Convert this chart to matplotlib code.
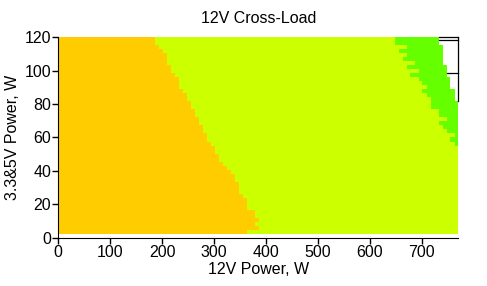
import numpy as np
import matplotlib.pyplot as plt

# ---------------------------------------------------------
# 12V cross-load map: zones per 3.3&5V load row
# ---------------------------------------------------------

# bottom edge of each 3.3&5V load row (W), top row first
row_load = [117.6, 115.2, 112.8, 110.4, 108.0, 105.6, 103.2, 100.8, 98.4, 96.0,
            93.6, 91.2, 88.8, 86.4, 84.0, 81.6, 79.2, 76.8, 74.4, 72.0,
            69.6, 67.2, 64.8, 62.4, 60.0, 57.6, 55.2, 52.8, 50.4, 48.0,
            45.6, 43.2, 40.8, 38.4, 36.0, 33.6, 31.2, 28.8, 26.4, 24.0,
            21.6, 19.2, 16.8, 14.4, 12.0, 9.6, 7.2, 4.8, 2.4]
row_height = 2.4

# 12V load (W) where the orange zone ends
orange_end = [186, 186, 194, 201, 209, 209, 209, 217, 217, 224,
              232, 232, 232, 240, 248, 248, 255, 255, 263, 263,
              271, 271, 278, 278, 286, 286, 294, 301, 301, 309,
              309, 317, 324, 332, 340, 340, 348, 348, 348, 355,
              363, 363, 363, 378, 378, 386, 378, 386, 363]

# 12V load (W) where the green zone starts
green_start = [648, 648, 671, 655, 671, 663, 686, 671, 694, 678,
               694, 701, 709, 701, 709, 717, 717, 717, 732, 732,
               748, 732, 740, 748, 763, 755, 763, 770, 770, 770,
               770, 770, 770, 770, 770, 770, 770, 770, 770, 770,
               770, 770, 770, 770, 770, 770, 770, 770, 770]

# 12V load (W) where measured area ends
green_end = [732, 732, 740, 740, 740, 740, 740, 748, 748, 748,
             755, 755, 755, 763, 763, 763, 770, 770, 770, 770,
             770, 770, 770, 770, 770, 770, 770, 770, 770, 770,
             770, 770, 770, 770, 770, 770, 770, 770, 770, 770,
             770, 770, 770, 770, 770, 770, 770, 770, 770]

x_ticks = [0, 100, 200, 300, 400, 500, 600, 700]
y_ticks = [0, 20, 40, 60, 80, 100, 120]

c_orange = '#FFCC00'
c_yellow = '#CCFF00'
c_green = '#66FF00'

plt.rcParams['font.family'] = ['Liberation Sans', 'DejaVu Sans']

fig = plt.figure(figsize=(4.87, 2.86), dpi=100)
ax = fig.add_axes([0.1197, 0.169, 0.8213, 0.7005])

y = np.array(row_load)
oe = np.array(orange_end)
gs = np.array(green_start)
ge = np.array(green_end)

ax.barh(y, oe, left=0, height=row_height, align='edge', color=c_orange, linewidth=0)
ax.barh(y, gs - oe, left=oe, height=row_height, align='edge', color=c_yellow, linewidth=0)
ax.barh(y, ge - gs, left=gs, height=row_height, align='edge', color=c_green, linewidth=0)

# outline of the unmeasured corner
ax.plot([732, 770], [120, 120], color='black', lw=0.9, clip_on=False)
ax.plot([732, 770], [118.4, 118.4], color='black', lw=0.9, clip_on=False)
ax.plot([748, 770], [98.4, 98.4], color='black', lw=0.9, clip_on=False)
ax.plot([770, 770], [81.6, 120], color='black', lw=0.9, clip_on=False)

ax.set_xlim(0, 770)
ax.set_ylim(0, 120)
ax.set_xticks(x_ticks)
ax.set_yticks(y_ticks)
ax.spines['top'].set_visible(False)
ax.spines['right'].set_visible(False)
ax.tick_params(direction='out', length=4, width=1, labelsize=11.5, pad=1)

ax.set_title("12V Cross-Load", fontsize=11.5, pad=10)
ax.set_xlabel("12V Power, W", fontsize=11.5, labelpad=1.5)
ax.set_ylabel("3.3&5V Power, W", fontsize=11.5, labelpad=3.5)

fig.savefig("out.png", dpi=100)
